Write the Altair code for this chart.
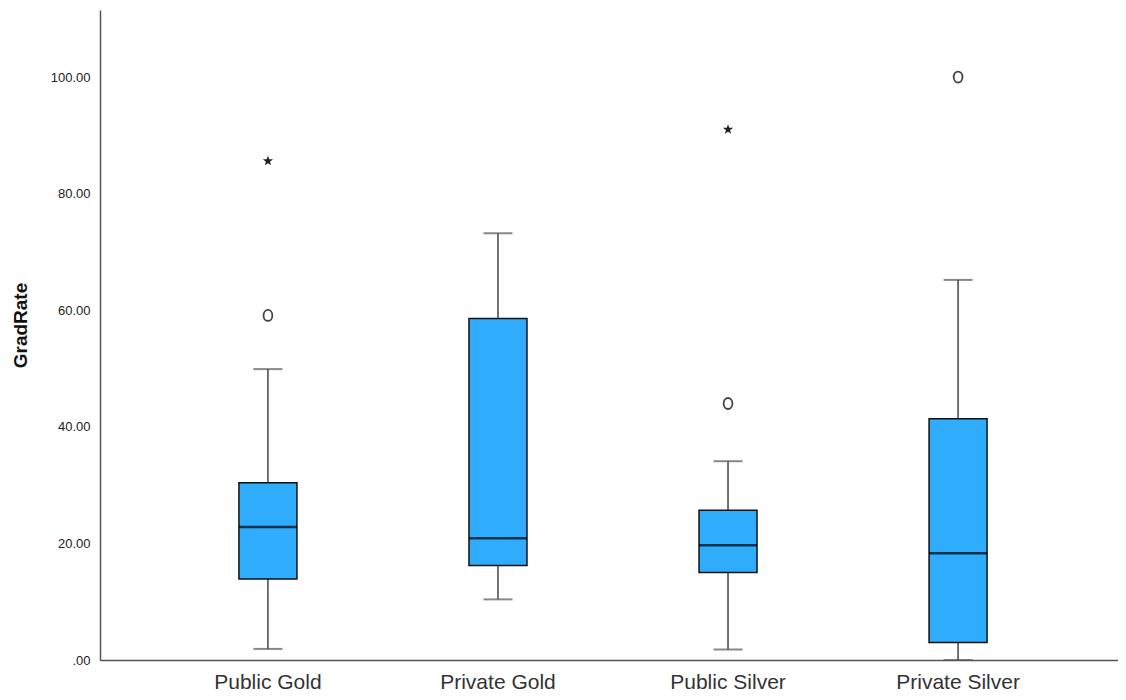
import altair as alt
import pandas as pd

# ---- data ----
groups = ["Public Gold", "Private Gold", "Public Silver", "Private Silver"]
whisker_low = [1.9, 10.4, 1.8, 0.0]
q1 = [13.9, 16.2, 15.0, 3.0]
median = [22.8, 20.9, 19.7, 18.3]
q3 = [30.4, 58.6, 25.7, 41.4]
whisker_high = [49.9, 73.2, 34.1, 65.2]

outlier_group = ["Public Gold", "Public Gold", "Public Silver", "Public Silver", "Private Silver"]
outlier_value = [59.1, 85.6, 44.0, 91.0, 100.0]
outlier_kind = ["outlier", "extreme", "outlier", "extreme", "outlier"]

y_ticks = [0, 20, 40, 60, 80, 100]

box_df = pd.DataFrame({
    "group": groups, "low": whisker_low, "q1": q1, "median": median,
    "q3": q3, "high": whisker_high,
})
out_df = pd.DataFrame({"group": outlier_group, "value": outlier_value, "kind": outlier_kind})

STAR = ("M0,-1 L0.235,-0.324 L0.951,-0.309 L0.380,0.124 L0.588,0.809 L0,0.4 "
        "L-0.588,0.809 L-0.380,0.124 L-0.951,-0.309 L-0.235,-0.324 Z")
OVAL = "M0,-1 A0.8,1 0 1,1 0,1 A0.8,1 0 1,1 0,-1 Z"

FONT = "Liberation Sans"

x_enc = alt.X(
    "group:N", sort=groups, title=None,
    scale=alt.Scale(paddingInner=0, paddingOuter=0.23, range=[0, 1026]),
    axis=alt.Axis(labelAngle=0, labelFontSize=21, labelFont=FONT, labelColor="#333",
                  labelPadding=11, ticks=False, domainColor="#555", domainWidth=1.5,
                  grid=False),
)
y_scale = alt.Scale(domain=[0, 111.5], nice=False, zero=False)
y_axis = alt.Axis(
    values=y_ticks, format=".2f", labelExpr="replace(datum.label, /^0\\./, '.')",
    labelFontSize=13, labelFont=FONT, labelColor="#222", labelPadding=10,
    ticks=False, grid=False, domainColor="#555", domainWidth=1.5,
    title="GradRate", titleFontSize=19, titleFont=FONT, titleFontWeight="bold",
    titleColor="#111", titleX=-70, titleY=315, titleBaseline="bottom",
)

base = alt.Chart(box_df)

whisker = base.mark_rule(color="#444", strokeWidth=1.5).encode(
    x=x_enc, y=alt.Y("low:Q", scale=y_scale, axis=y_axis), y2="high:Q"
)
box = base.mark_bar(size=58, color="#30acfc", stroke="#111", strokeWidth=1.5).encode(
    x=alt.X("group:N", sort=groups), y=alt.Y("q1:Q"), y2="q3:Q"
)
med = base.mark_tick(size=58, thickness=2.5, color="#000").encode(
    x=alt.X("group:N", sort=groups), y=alt.Y("median:Q")
)
cap_low = base.mark_tick(size=29, thickness=2, color="#555").encode(
    x=alt.X("group:N", sort=groups), y=alt.Y("low:Q")
)
cap_high = base.mark_tick(size=29, thickness=2, color="#555").encode(
    x=alt.X("group:N", sort=groups), y=alt.Y("high:Q")
)

outl = alt.Chart(out_df).transform_filter(alt.datum.kind == "outlier").mark_point(
    shape=OVAL, size=121, filled=False, color="#444", strokeWidth=1.8, opacity=1
).encode(x=alt.X("group:N", sort=groups), y=alt.Y("value:Q"))

extr = alt.Chart(out_df).transform_filter(alt.datum.kind == "extreme").mark_point(
    shape=STAR, size=115, filled=True, color="#222", opacity=1
).encode(x=alt.X("group:N", sort=groups), y=alt.Y("value:Q"))

chart = alt.layer(whisker, box, cap_low, cap_high, med, outl, extr).properties(
    width=1018, height=650,
    autosize=alt.AutoSizeParams(type="none"),
    padding={"left": 92, "top": 2, "right": 0, "bottom": 32},
).configure(background="white", view=alt.ViewConfig(stroke="transparent", strokeWidth=0))

chart.save("out.html", embed_options={"renderer": "svg", "actions": False})
